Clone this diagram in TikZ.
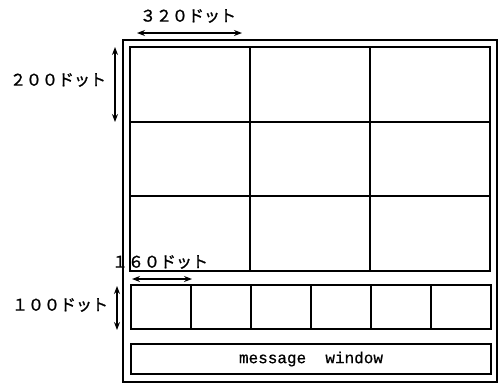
\documentclass[tikz,border=0pt]{standalone}
\usepackage{fontspec}
\newfontfamily\jpfont[FakeBold=1.2]{Noto Sans CJK JP}
\newfontfamily\monofont[FakeBold=0.6]{Liberation Mono}
\usetikzlibrary{arrows.meta}
\tikzset{
  box/.style={draw, line width=1.2pt, inner sep=0pt, outer sep=0pt, anchor=north west},
  dim/.style={line width=1.2pt, {Stealth[length=8pt,width=6pt]}-{Stealth[length=8pt,width=6pt]}},
  lbl/.style={font=\jpfont\fontsize{16pt}{16pt}\selectfont, inner sep=0pt},
}
\begin{document}
\begin{tikzpicture}[x=1pt,y=-1pt]
\useasboundingbox (0,0) rectangle (498,384);
% outer frame
\node[box, minimum width=374pt, minimum height=342pt] (outer) at (123,40) {};
% 3x3 grid
\foreach \i/\x in {0/130,1/250,2/370} {
  \foreach \j/\y/\h in {0/47/75,1/122/74,2/196/75} {
    \node[box, minimum width=120pt, minimum height=\h pt] (c\i\j) at (\x,\y) {};
  }
}
% bottom row of six boxes
\foreach \k/\x in {0/131,1/191,2/251,3/311,4/371,5/431} {
  \node[box, minimum width=60pt, minimum height=44pt] (b\k) at (\x,285) {};
}
% message window
\node[box, minimum width=360pt, minimum height=30pt] (msg) at (131,344) {};
\node[font=\monofont\fontsize{16pt}{16pt}\selectfont, inner sep=0pt] (msgt) at (msg.center) {message\ \ window};
% dimension arrows
\coordinate (a1s) at (137,33); \coordinate (a1e) at (242,33);
\draw[dim] (a1s) -- (a1e);
\coordinate (a2s) at (115,47); \coordinate (a2e) at (115,122);
\draw[dim] (a2s) -- (a2e);
\coordinate (a3s) at (132,279); \coordinate (a3e) at (192,279);
\draw[dim] (a3s) -- (a3e);
\coordinate (a4s) at (117,286); \coordinate (a4e) at (117,330);
\draw[dim] (a4s) -- (a4e);
% labels
\node[lbl] (l320) at (188,16) {３２０ドット};
\node[lbl] (l200) at (58,80) {２００ドット};
\node[lbl] (l160) at (160,262) {１６０ドット};
\node[lbl] (l100) at (60,305) {１００ドット};
\end{tikzpicture}
\end{document}
